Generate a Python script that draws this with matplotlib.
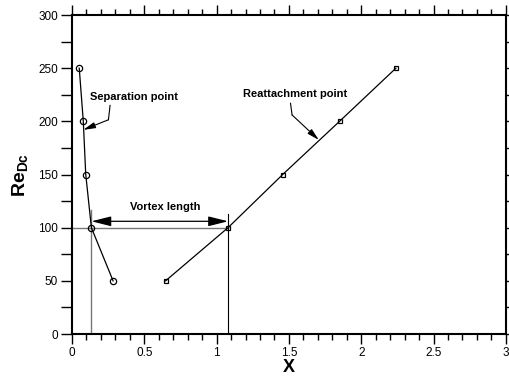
import matplotlib
matplotlib.use('Agg')
import matplotlib.pyplot as plt
from matplotlib.ticker import MultipleLocator

plt.rcParams['font.family'] = ['Liberation Sans', 'DejaVu Sans']
plt.rcParams['mathtext.fontset'] = 'custom'
plt.rcParams['mathtext.rm'] = 'Liberation Sans'
plt.rcParams['mathtext.bf'] = 'Liberation Sans:bold'

# separation point (circles) and reattachment point (squares)
re_values = [250, 200, 150, 100, 50]
sep_x = [0.05, 0.078, 0.095, 0.134, 0.284]
reatt_x = [2.24, 1.85, 1.457, 1.079, 0.647]

x_ticks = [0, 0.5, 1, 1.5, 2, 2.5, 3]
x_ticklabels = ['0', '0.5', '1', '1.5', '2', '2.5', '3']
y_ticks = [0, 50, 100, 150, 200, 250, 300]

fig = plt.figure(figsize=(5.1, 3.79), dpi=100)
ax = fig.add_axes([0.1412, 0.1187, 0.8506, 0.8417])

ax.plot(sep_x, re_values, color='black', lw=0.9, marker='o', ms=4.5,
        mfc='none', mec='black', mew=0.9)
ax.plot(reatt_x, re_values, color='black', lw=0.9, marker='s', ms=3.5,
        mfc='none', mec='black', mew=0.9)

# vortex length at Re = 100
x_sep100 = sep_x[3]
x_re100 = reatt_x[3]
ax.plot([0, x_re100], [100, 100], color='#777777', lw=1.0, zorder=1)
ax.plot([x_sep100, x_sep100], [0, 117], color='#777777', lw=1.0, zorder=1)
ax.plot([x_re100, x_re100], [0, 113], color='black', lw=0.8, zorder=1)
ax.annotate('', xy=(x_sep100, 106), xytext=(x_re100, 106),
            arrowprops=dict(arrowstyle='<|-|>,head_length=1.0,head_width=0.25',
                            color='black', lw=0.9, shrinkA=0, shrinkB=0,
                            mutation_scale=12))
ax.text(0.645, 119, 'Vortex length', ha='center', va='center',
        fontsize=8, fontweight='bold')

# leaders
ax.text(0.125, 223, 'Separation point', ha='left', va='center',
        fontsize=8, fontweight='bold')
ax.plot([0.263, 0.252], [215, 201.5], color='black', lw=0.8)
ax.annotate('', xy=(0.078, 192), xytext=(0.252, 201.5),
            arrowprops=dict(arrowstyle='-|>,head_length=0.8,head_width=0.2',
                            color='black', lw=0.8, shrinkA=0, shrinkB=0,
                            mutation_scale=9))

ax.text(1.185, 226, 'Reattachment point', ha='left', va='center',
        fontsize=8, fontweight='bold')
ax.plot([1.511, 1.522], [217, 206], color='black', lw=0.8)
ax.annotate('', xy=(1.707, 182.5), xytext=(1.522, 206),
            arrowprops=dict(arrowstyle='-|>,head_length=0.8,head_width=0.2',
                            color='black', lw=0.8, shrinkA=0, shrinkB=0,
                            mutation_scale=9))

ax.set_xlim(0, 3)
ax.set_ylim(0, 300)
ax.set_xticks(x_ticks)
ax.set_xticklabels(x_ticklabels)
ax.set_yticks(y_ticks)
ax.xaxis.set_minor_locator(MultipleLocator(0.1))
ax.yaxis.set_minor_locator(MultipleLocator(25))
ax.tick_params(which='both', direction='out', top=True, right=True,
               labelsize=8.5, width=1.0, pad=2, colors='black')
ax.tick_params(axis='x', which='major', length=7)
ax.tick_params(axis='x', which='minor', length=4)
ax.tick_params(axis='y', which='both', length=8)
for s in ax.spines.values():
    s.set_linewidth(1.5)

ax.set_xlabel('X', fontsize=13, fontweight='bold', labelpad=0)
ax.set_ylabel(r'$\mathbf{Re_{Dc}}$', fontsize=14, labelpad=6)

fig.savefig('out.png', dpi=100)
